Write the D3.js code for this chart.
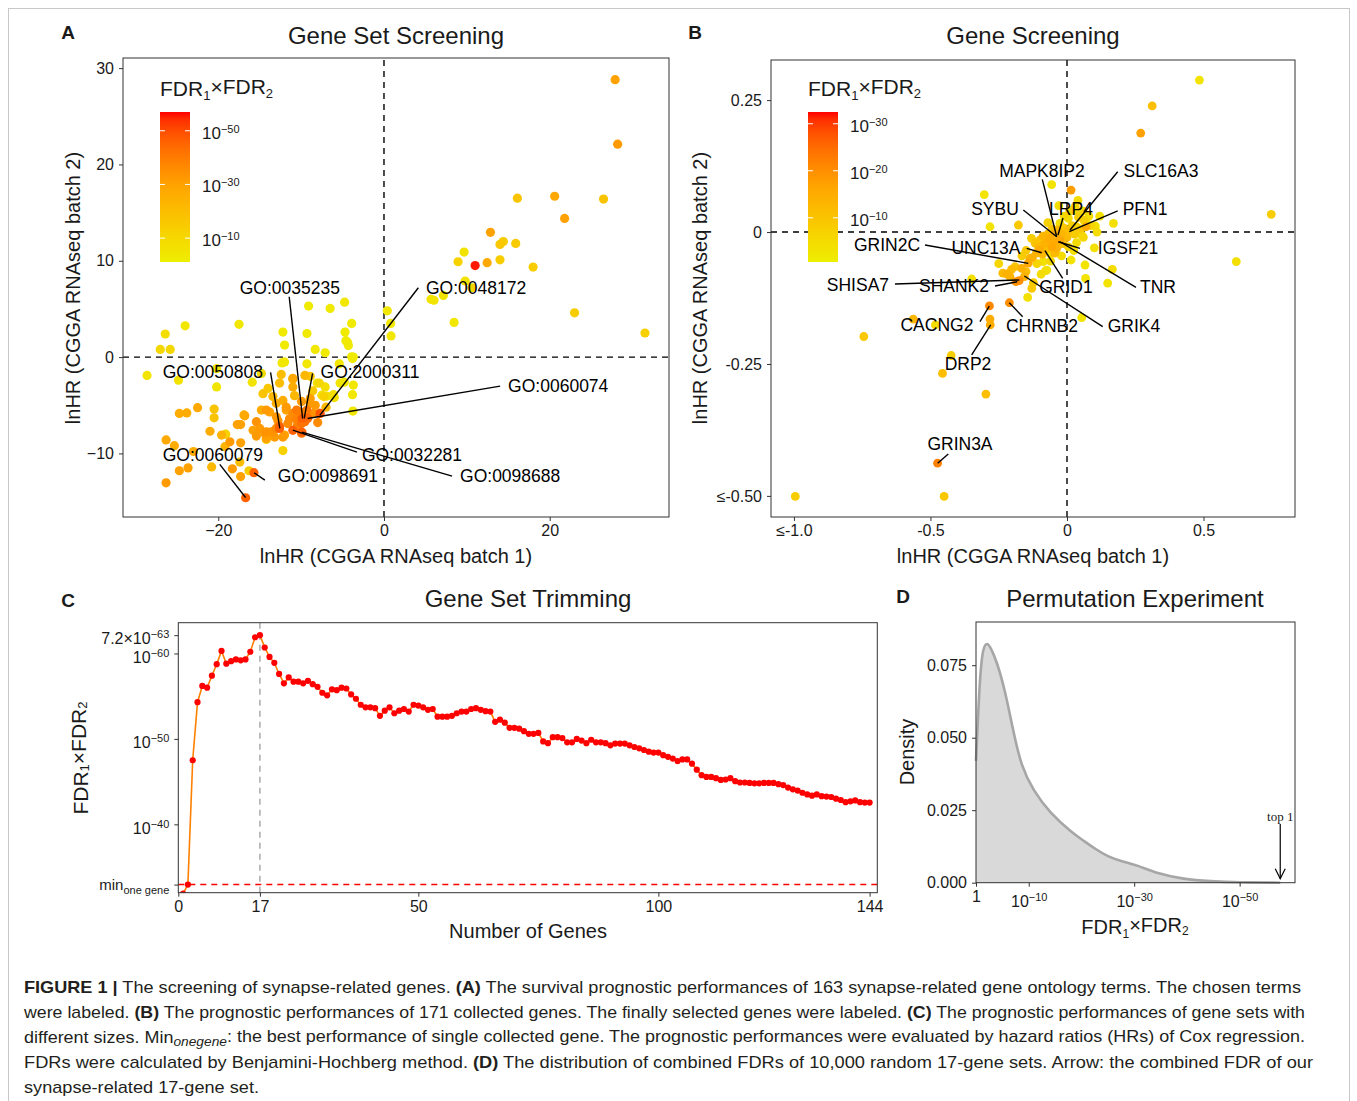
<!DOCTYPE html>
<html><head><meta charset="utf-8">
<script src="https://cdn.jsdelivr.net/npm/d3@7"></script>
<style>body{margin:0;background:#fff}svg{display:block;font-family:"Liberation Sans",Arial,Helvetica,sans-serif}</style>
</head><body><svg id="fig" width="1357" height="1101"></svg>
<script>
// ---------------- DATA ----------------
// Panel A: [lnHR batch1, lnHR batch2, -log10(FDR1*FDR2)]
const aPoints = [
[27.9,28.8,30],[28.2,22.1,32],[16.1,16.5,17],[20.6,16.7,28],[26.5,16.4,18],[21.8,14.4,30],[12.85,12.95,30],[14.0,11.7,16],[14.4,12.0,15],[15.9,11.8,15],
[9.67,10.9,6],[8.94,9.9,12],[11.0,9.5,56],[12.45,9.8,28],[14.0,10.1,14],[18.0,9.35,14],[9.8,7.9,6],[10.6,7.2,10],[7.17,6.4,5],[5.68,6.0,5],
[6.04,5.9,5],[8.46,3.6,4],[23.0,4.6,14],[31.5,2.5,13],[0.4,4.8,4],[0.8,3.5,4],[0.85,2.2,4],
[-4.75,5.7,4],[-6.5,5.05,3],[-3.9,3.5,3],[-4.7,2.6,3],[-4.3,1.2,3],[-3.7,0.0,3],[-24.0,3.25,4],[-26.4,2.4,8],[-27.0,0.8,10],[-25.8,0.8,10],
[-17.5,3.4,4],[-28.6,-1.9,5],[-24.8,-2.4,6],[-20.2,-1.2,4],[-20.2,-3.1,5],[-9.1,5.3,3],[-12.2,2.6,3],[-9.3,2.45,3],[-12.0,1.25,3],[-8.3,0.8,4],
[-7.1,0.45,3],[-4.4,1.55,3],[-3.8,-0.15,3],[-5.4,-0.7,4],[-12.3,-0.6,4],[-12.0,-0.5,4],
[-11.0,-2.3,20],[-9.55,-1.9,22],[-8.9,-2.0,16],[-7.8,-2.7,10],[-7.1,-3.1,8],[-6.1,-3.9,8],[-5.3,-2.7,5],[-3.8,-3.9,4],[-3.75,-5.6,4],[-7.25,-4.1,12],
[-12.4,-1.8,20],[-12.6,-2.7,20],[-14.0,-3.25,16],[-14.8,-1.7,10],[-14.6,-3.8,18],[-13.4,-4.1,22],[-11.0,-3.1,26],[-14.2,-5.5,32],[-13.0,-4.8,26],
[-11.8,-5.5,30],[-11.0,-5.85,36],[-10.15,-5.7,38],[-9.35,-6.0,36],[-8.5,-5.85,34],[-7.8,-5.85,38],[-9.95,-6.4,40],[-9.55,-6.7,42],[-15.4,-6.7,34],
[-15.0,-7.4,32],[-14.2,-7.75,34],[-13.4,-7.75,34],[-14.2,-8.55,14],[-13.0,-7.4,36],[-12.6,-7.2,44],[-12.0,-8.1,30],[-12.2,-8.3,32],[-11.0,-7.6,46],
[-9.95,-7.9,40],[-16.8,-6.1,28],[-17.7,-7.0,30],[-17.3,-7.0,30],[-21.0,-7.7,26],[-22.5,-5.25,28],[-24.7,-5.85,26],[-23.8,-5.8,26],[-20.5,-5.4,18],
[-20.5,-6.3,18],[-19.6,-8.1,24],[-19.1,-8.0,12],[-18.6,-8.8,32],[-17.3,-8.9,30],[-19.2,-9.3,24],[-26.3,-8.6,28],[-25.3,-9.2,26],[-23.0,-9.8,26],
[-20.8,-11.4,22],[-24.7,-11.8,30],[-23.65,-11.5,30],[-17.4,-10.9,20],[-18.3,-11.6,32],[-17.3,-12.4,30],[-16.3,-11.8,14],[-15.7,-12.0,46],
[-26.3,-13.05,32],[-16.7,-14.6,46],[-12.2,-9.7,12],
[-4.6,1.7,3],[-3.9,0.03,3],[-9.3,-0.7,4],[-15.9,-2.6,5],[-11.0,-2.2,28],[-8.05,-2.7,6],[-7.5,-3.95,8],[-6.9,-4.05,6],[-6.0,-4.2,8],[-4.8,-2.6,4],
[-3.7,-2.9,4],[-8.9,-4.3,30],[-8.9,-4.8,32],[-9.95,-4.6,32],[-10.55,-5.5,40],[-9.3,-5.5,40],[-8.3,-5.0,32],[-7.7,-5.85,48],[-11.8,-5.2,32],
[-13.8,-5.7,30],[-14.8,-5.5,26],[-13.0,-6.2,32],[-11.4,-6.4,36],[-10.55,-6.5,38],[-9.95,-6.9,42],[-16.9,-6.0,26],[-13.6,-7.75,34],[-15.8,-7.6,30],
[-15.4,-8.2,32],[-14.4,-7.9,32],[-14.2,-8.45,30],[-13.2,-8.3,32],[-9.85,-6.35,46],[-9.2,-6.35,44],[-12.6,-7.4,46],[-9.9,-7.8,46],[-10.8,-4.0,22],
[-12.2,-4.5,26],[-8.0,-6.8,36],[-10.5,-7.2,38],[-11.6,-6.9,36],[-12.8,-6.6,34],[-8.6,-3.5,16],[-7.0,-5.2,22]
];
// Panel A labels: [name, pointX, pointY, segX, segY, textX, textY]
const aLabels = [
["GO:0035235",-9.82,-6.37,-11.44,6.26,-11.36,7.17],
["GO:0048172",-7.73,-6.02,4.15,7.2,11.12,7.17],
["GO:0050808",-12.57,-7.40,-13.69,-1.59,-20.66,-1.56],
["GO:2000311",-9.63,-6.37,-8.62,-1.69,-1.69,-1.56],
["GO:0060074",-9.22,-6.37,14.02,-3.01,21.03,-3.01],
["GO:0060079",-16.71,-14.57,-19.82,-11.14,-20.66,-10.18],
["GO:0032281",-11.0,-7.58,-3.26,-9.87,3.38,-10.18],
["GO:0098691",-15.67,-12.01,-14.38,-12.77,-6.77,-12.36],
["GO:0098688",-9.91,-7.79,8.22,-12.36,15.23,-12.36]
];
const aXTicks = [-20,0,20];
const aYTicks = [-10,0,10,20,30];
const aLegendTicks = [10,30,50];

// Panel B: [lnHR batch1, lnHR batch2, -log10(FDR1*FDR2)]
const bPoints = [
[0.485,0.288,3],[0.312,0.239,11],[0.27,0.1875,17],[0.748,0.0335,8],[0.62,-0.056,4],[0.015,0.0795,18],[-0.056,0.090,3],[-0.303,0.071,3],
[-0.282,0.010,3],[-0.178,0.0133,9],[0.17,0.0165,4],[0.104,0.0114,4],[0.07,0.010,15],[0.054,-0.0057,4],[0.015,-0.053,3],[0.066,-0.0625,3],
[0.166,-0.0707,5],[0.068,-0.088,3],[0.149,-0.097,3],[0.054,-0.162,3],[-0.087,-0.056,4],[-0.078,-0.073,4],[-0.144,-0.124,4],[-0.123,-0.096,8],
[-0.127,-0.0486,14],[-0.142,-0.059,16],[-0.166,-0.0688,14],[-0.19,-0.0657,10],[-0.203,-0.0707,12],[-0.221,-0.0795,14],[-0.209,-0.0846,13],
[-0.175,-0.092,20],[-0.187,-0.094,19],[-0.156,-0.0846,14],[-0.349,-0.089,4],[-0.284,-0.140,21],[-0.211,-0.134,20],[-0.282,-0.165,15],
[-0.281,-0.176,15],[-0.563,-0.165,13],[-0.482,-0.176,5],[-0.744,-0.198,9],[-0.424,-0.234,8],[-0.456,-0.268,11],[-0.297,-0.307,11],
[-0.474,-0.438,22],[-0.995,-0.501,8],[-0.45,-0.501,9],
[0.023,0.0417,5],[0.048,0.035,6],[0.005,0.026,5],[-0.026,0.0165,4],[0.072,0.0165,4],[0.035,0.010,6],[-0.044,-0.0025,14],[-0.062,-0.012,15],
[-0.099,-0.015,10],[-0.117,-0.021,10],[-0.081,-0.021,14],[-0.05,-0.018,15],[-0.026,-0.015,16],[-0.032,-0.0246,10],[-0.099,-0.034,15],
[-0.074,-0.031,11],[-0.062,-0.040,5],[-0.038,-0.031,14],[-0.074,-0.072,4],[-0.136,-0.050,13],[-0.129,-0.1067,9],
[0.010,0.040,7],[0.030,0.048,6],[0.042,0.028,8],[0.058,0.040,5],[0.062,0.022,7],[0.080,0.030,5],[0.018,0.012,8],[0.050,0.006,9],[0.088,0.012,6],
[-0.010,0.030,6],[-0.012,0.008,9],[0.002,0.002,11],[0.028,-0.004,8],[-0.020,-0.004,13],[-0.035,0.004,12],[-0.055,0.006,10],[-0.070,-0.004,12],
[-0.088,-0.008,13],[-0.105,-0.028,12],[-0.090,-0.042,12],[-0.112,-0.040,13],[-0.055,-0.028,16],[-0.045,-0.040,12],[-0.015,-0.022,10],
[0.005,-0.028,6],[0.035,-0.020,5],[0.025,-0.035,4],[0.100,-0.030,4],[0.120,0.030,4],[-0.150,-0.035,9],[-0.165,-0.045,8],[-0.110,-0.060,6],
[-0.095,-0.080,5],[-0.150,-0.075,12],[-0.235,-0.078,12],[-0.250,-0.060,6],[-0.030,0.050,4],[0.040,0.060,5],[0.110,0.000,5],[-0.060,-0.055,6],
[-0.020,-0.045,5],[-0.130,-0.012,8],[0.000,-0.010,12],[-0.070,0.018,7],[0.060,-0.010,6]
];
const bLabels = [
["MAPK8IP2",-0.0377,-0.0089,-0.0905,0.0998,-0.0916,0.1155],
["SLC16A3",0.011,0.0038,0.1857,0.1142,0.344,0.1155],
["SYBU",-0.0377,-0.0089,-0.160,0.0417,-0.2637,0.0436],
["LRP4",-0.033,-0.0057,-0.0147,0.0265,0.0147,0.0436],
["PFN1",0.0084,0.0006,0.1857,0.0403,0.2857,0.0436],
["GRIN2C",-0.1418,-0.0593,-0.520,-0.0246,-0.659,-0.0246],
["UNC13A",-0.0927,-0.0392,-0.1476,-0.0309,-0.2967,-0.0303],
["IGSF21",-0.0319,-0.0184,0.0476,-0.0309,0.2234,-0.0303],
["SHISA7",-0.1747,-0.0909,-0.630,-0.0985,-0.7656,-0.1004],
["SHANK2",-0.182,-0.0941,-0.2637,-0.1023,-0.4139,-0.1023],
["GRID1",-0.0806,-0.0354,-0.0158,-0.0877,-0.0037,-0.1042],
["TNR",-0.0256,-0.0184,0.2527,-0.1047,0.3333,-0.1042],
["GRIK4",-0.1564,-0.0833,0.1308,-0.1794,0.2454,-0.178],
["CACNG2",-0.2846,-0.1402,-0.3187,-0.1699,-0.4762,-0.1761],
["CHRNB2",-0.2114,-0.1339,-0.1623,-0.1604,-0.0916,-0.178],
["DRP2",-0.2795,-0.1761,-0.3491,-0.2330,-0.3626,-0.25],
["GRIN3A",-0.4736,-0.4381,-0.4348,-0.4205,-0.3919,-0.4015]
];
const bXTicks = [-1,-0.5,0,0.5];
const bXTickLabels = ["\u2264-1.0","-0.5","0","0.5"];
const bYTicks = [-0.5,-0.25,0,0.25];
const bYTickLabels = ["\u2264-0.50","-0.25","0","0.25"];
const bLegendTicks = [10,20,30];

// Panel C: -log10(FDR1*FDR2) for gene sets of size 1..144
const cExp = [
31.9,32.95,47.5,54.3,56.2,56.0,57.4,58.75,60.3,58.8,59.1,59.3,59.2,59.3,60.2,61.9,62.14,60.7,59.6,58.9,
57.6,56.5,57.2,56.7,56.7,56.5,56.8,56.4,56.1,55.4,55.1,55.8,55.7,56.0,55.9,55.2,54.7,54.0,53.7,53.7,
53.6,52.7,53.3,53.7,53.0,53.3,53.5,53.2,54.0,53.9,53.7,53.4,53.5,52.6,52.6,52.6,52.7,53.0,53.2,53.2,
53.5,53.6,53.4,53.25,53.2,52.0,52.25,51.9,51.3,51.3,51.2,50.9,50.6,50.6,50.7,49.7,49.5,50.2,50.2,50.1,
49.6,49.6,50.0,49.8,49.5,49.9,49.6,49.6,49.5,49.25,49.45,49.45,49.45,49.25,49.05,48.9,48.7,48.5,48.4,48.4,
48.1,47.9,47.7,47.4,47.6,47.6,47.1,46.4,45.75,45.55,45.55,45.4,45.2,45.25,45.4,45.05,44.9,44.9,44.85,44.8,
44.8,44.85,44.85,44.85,44.7,44.6,44.3,44.1,43.95,43.7,43.5,43.35,43.5,43.3,43.25,43.2,43.0,42.85,42.6,42.7,
42.8,42.6,42.55,42.55
];
const cMinOneGene = 32.95;
const cChosen = 17;
const cXTicks = [0,17,50,100,144];
const cYTicks = [40,50,60];

// Panel D: density of -log10(FDR1*FDR2) among random 17-gene sets
const dDensity = [
[0,0.042],[0.4,0.058],[0.8,0.072],[1.3,0.081],[2.1,0.083],[2.8,0.081],[3.9,0.0765],[5.5,0.0665],[7.0,0.0527],[8.6,0.040],
[10.8,0.032],[14,0.024],[18.4,0.017],[20,0.015],[22.9,0.0113],[25,0.009],[27.9,0.0072],[30.5,0.0061],[34.3,0.0032],
[39.4,0.0012],[44.4,0.0005],[50,0.0001],[57.7,0]
];
const dTop1 = 57.7;
const dXTicks = [0,10,30,50];
const dYTicks = [0,0.025,0.05,0.075];

// ---------------- DRAW ----------------
const svg = d3.select('#fig');
const INK = '#1a1a1a';
svg.append('rect').attr('width',1357).attr('height',1101).attr('fill','#fff');
svg.append('rect').attr('x',8.5).attr('y',8.5).attr('width',1341).attr('height',1110)
  .attr('fill','none').attr('stroke','#c8c8c8').attr('stroke-width',1);

const stops = ['#EEEE00','#FFA500','#FF0000'];
function colorScale(lo,hi){
  return d3.scaleLinear().domain([lo,(lo+hi)/2,hi]).range(stops).interpolate(d3.interpolateLab).clamp(true);
}
function sup(t, base, s, size){
  t.text(null);
  t.append('tspan').text(base);
  t.append('tspan').attr('dy','-0.55em').attr('font-size',size||11).text(s);
}
function fdrTitle(g, x, y, size, anchor, rotate){
  const t = g.append('text').attr('x',x).attr('y',y).attr('font-size',size).attr('fill',INK)
    .attr('text-anchor',anchor||'start');
  if(rotate) t.attr('transform',`rotate(-90,${x},${y})`);
  const s = Math.round(size*0.6);
  t.append('tspan').text('FDR');
  t.append('tspan').attr('dy','0.3em').attr('font-size',s).text('1');
  t.append('tspan').attr('dy','-0.3em').text('\u00d7FDR');
  t.append('tspan').attr('dy','0.3em').attr('font-size',s).text('2');
  return t;
}
function styleAxis(g, fs){
  g.select('.domain').remove();
  g.selectAll('.tick line').attr('stroke','#333');
  g.selectAll('.tick text').attr('fill',INK).attr('font-size',fs||16).attr('font-family','"Liberation Sans",Arial,sans-serif');
}
function frame(x, y){
  svg.append('rect').attr('x',x.range()[0]).attr('y',y.range()[1])
    .attr('width',x.range()[1]-x.range()[0]).attr('height',y.range()[0]-y.range()[1])
    .attr('fill','none').attr('stroke','#333').attr('stroke-width',1);
}
function title(txt,x,y){
  svg.append('text').attr('x',x).attr('y',y).attr('text-anchor','middle').attr('dominant-baseline','central')
    .attr('font-size',24).attr('fill',INK).text(txt);
}
function letter(txt,x,y){
  svg.append('text').attr('x',x).attr('y',y).attr('text-anchor','middle').attr('dominant-baseline','central')
    .attr('font-size',19).attr('font-weight','bold').attr('fill',INK).text(txt);
}
function axTitle(txt,x,y,rot){
  const t = svg.append('text').attr('x',x).attr('y',y).attr('text-anchor','middle').attr('dominant-baseline','central')
    .attr('font-size',20).attr('fill',INK).text(txt);
  if(rot) t.attr('transform',`rotate(-90,${x},${y})`);
}
function legend(x0, y0, y1, lo, hi, ticks, col, id){
  const grad = svg.append('defs').append('linearGradient').attr('id',id)
    .attr('x1',0).attr('y1',1).attr('x2',0).attr('y2',0);
  d3.range(0,1.0001,0.05).forEach(f=>{
    grad.append('stop').attr('offset',f).attr('stop-color',col(lo+f*(hi-lo)));
  });
  fdrTitle(svg, x0, y0-16, 21);
  svg.append('rect').attr('x',x0).attr('y',y0).attr('width',30).attr('height',y1-y0).attr('fill',`url(#${id})`);
  const ly = d3.scaleLinear().domain([lo,hi]).range([y1,y0]);
  ticks.forEach(v=>{
    svg.append('line').attr('x1',x0).attr('x2',x0+5).attr('y1',ly(v)).attr('y2',ly(v)).attr('stroke','#fff').attr('stroke-width',1);
    svg.append('line').attr('x1',x0+25).attr('x2',x0+30).attr('y1',ly(v)).attr('y2',ly(v)).attr('stroke','#fff').attr('stroke-width',1);
    const t = svg.append('text').attr('x',x0+42).attr('y',ly(v)+8).attr('font-size',17).attr('fill',INK);
    sup(t,'10','\u2212'+v,11);
  });
}
function scatter(pts, labels, x, y, col, r){
  const g = svg.append('g');
  const sorted = pts.slice().sort((a,b)=>a[2]-b[2]);
  g.selectAll('circle').data(sorted).join('circle')
    .attr('cx',d=>x(d[0])).attr('cy',d=>y(d[1])).attr('r',r).attr('fill',d=>col(d[2]));
  const lg = svg.append('g');
  lg.selectAll('line').data(labels).join('line')
    .attr('x1',d=>x(d[1])).attr('y1',d=>y(d[2])).attr('x2',d=>x(d[3])).attr('y2',d=>y(d[4]))
    .attr('stroke','#000').attr('stroke-width',1.4);
  lg.selectAll('text').data(labels).join('text')
    .attr('x',d=>x(d[5])).attr('y',d=>y(d[6])).attr('text-anchor','middle').attr('dominant-baseline','central')
    .attr('font-size',17.5).attr('fill','#000').text(d=>d[0]);
}
function zeroLines(x,y){
  const g = svg.append('g').attr('stroke','#000').attr('stroke-width',1.4).attr('stroke-dasharray','6,5');
  g.append('line').attr('x1',x(0)).attr('x2',x(0)).attr('y1',y.range()[0]).attr('y2',y.range()[1]);
  g.append('line').attr('x1',x.range()[0]).attr('x2',x.range()[1]).attr('y1',y(0)).attr('y2',y(0));
}

// ---- Panel A ----
const xA = d3.scaleLinear().domain([-31.5,34.4]).range([123,669]);
const yA = d3.scaleLinear().domain([-16.6,31.05]).range([517,58]);
const colA = colorScale(1.1,57);
letter('A',68,32); title('Gene Set Screening',396,35);
zeroLines(xA,yA);
scatter(aPoints,aLabels,xA,yA,colA,4.6);
frame(xA,yA);
styleAxis(svg.append('g').attr('transform','translate(0,517)').call(d3.axisBottom(xA).tickValues(aXTicks).tickSize(4).tickPadding(4)));
styleAxis(svg.append('g').attr('transform','translate(123,0)').call(d3.axisLeft(yA).tickValues(aYTicks).tickSize(4).tickPadding(5)));
legend(160,112,262,1.1,57,aLegendTicks,colA,'gA');
axTitle('lnHR (CGGA RNAseq batch 1)',396,556);
axTitle('lnHR (CGGA RNAseq batch 2)',73,288,true);

// ---- Panel B ----
const xB = d3.scaleLinear().domain([-1.084,0.835]).range([771,1295]);
const yB = d3.scaleLinear().domain([-0.540,0.326]).range([517,60]);
const colB = colorScale(0.6,32.5);
letter('B',695,32); title('Gene Screening',1033,35);
zeroLines(xB,yB);
scatter(bPoints,bLabels,xB,yB,colB,4.4);
frame(xB,yB);
styleAxis(svg.append('g').attr('transform','translate(0,517)').call(d3.axisBottom(xB).tickValues(bXTicks).tickSize(4).tickPadding(4).tickFormat((d,i)=>bXTickLabels[i])));
styleAxis(svg.append('g').attr('transform','translate(771,0)').call(d3.axisLeft(yB).tickValues(bYTicks).tickSize(4).tickPadding(5).tickFormat((d,i)=>bYTickLabels[i])));
legend(808,112,262,0.6,32.5,bLegendTicks,colB,'gB');
axTitle('lnHR (CGGA RNAseq batch 1)',1033,556);
axTitle('lnHR (CGGA RNAseq batch 2)',700,288,true);

// ---- Panel C ----
const xC = d3.scaleLinear().domain([0,145.6]).range([178.3,877.3]);
const yC = d3.scaleLinear().domain([32.0,63.6]).range([892.7,622.7]);
letter('C',68,600); title('Gene Set Trimming',528,598);
svg.append('defs').append('clipPath').attr('id','clipC').append('rect')
  .attr('x',178.3).attr('y',622.7).attr('width',699).attr('height',270);
const gC = svg.append('g').attr('clip-path','url(#clipC)');
gC.append('line').attr('x1',xC(cChosen)).attr('x2',xC(cChosen)).attr('y1',622.7).attr('y2',892.7)
  .attr('stroke','#aaa').attr('stroke-width',1.5).attr('stroke-dasharray','6,5');
gC.append('line').attr('x1',178.3).attr('x2',877.3).attr('y1',yC(cMinOneGene)).attr('y2',yC(cMinOneGene))
  .attr('stroke','#ff0000').attr('stroke-width',1.5).attr('stroke-dasharray','6,5');
const cData = cExp.map((v,i)=>[i+1,v]);
gC.append('path').datum(cData).attr('d',d3.line().x(d=>xC(d[0])).y(d=>yC(d[1])))
  .attr('fill','none').attr('stroke','#FF7F00').attr('stroke-width',1.6);
gC.selectAll('circle').data(cData).join('circle').attr('cx',d=>xC(d[0])).attr('cy',d=>yC(d[1])).attr('r',3.1).attr('fill','#ff0000');
frame(xC,yC);
styleAxis(svg.append('g').attr('transform','translate(0,892.7)').call(d3.axisBottom(xC).tickValues(cXTicks).tickSize(4).tickPadding(4)));
const yAxC = svg.append('g').attr('transform','translate(178.3,0)')
  .call(d3.axisLeft(yC).tickValues([cMinOneGene,40,50,60,62.14]).tickSize(4).tickPadding(5));
styleAxis(yAxC);
yAxC.selectAll('.tick text').each(function(d){
  const t = d3.select(this);
  if(d===cMinOneGene){
    t.text(null).attr('font-size',15);
    t.append('tspan').text('min');
    t.append('tspan').attr('dy','0.35em').attr('font-size',11).text('one gene');
  } else if(d===62.14){ sup(t,'7.2\u00d710','\u221263',11); t.attr('dy','0.55em'); }
  else sup(t,'10','\u2212'+d,11), t.attr('dy','0.55em');
});
axTitle('Number of Genes',528,931);
fdrTitle(svg,80,758,21,'middle',true).attr('dominant-baseline','central');

// ---- Panel D ----
const xD = d3.scaleLinear().domain([0,60.5]).range([976,1295]);
const yD = d3.scaleLinear().domain([0,0.0899]).range([882.7,622]);
letter('D',903,596); title('Permutation Experiment',1135,598);
const area = d3.area().x(d=>xD(d[0])).y0(yD(0)).y1(d=>yD(d[1])).curve(d3.curveBasis);
svg.append('path').datum(dDensity).attr('d',area).attr('fill','#d9d9d9');
svg.append('path').datum(dDensity).attr('d',d3.line().x(d=>xD(d[0])).y(d=>yD(d[1])).curve(d3.curveBasis))
  .attr('fill','none').attr('stroke','#a6a6a6').attr('stroke-width',2.6);
frame(xD,yD);
const xAxD = svg.append('g').attr('transform','translate(0,882.7)').call(d3.axisBottom(xD).tickValues(dXTicks).tickSize(4).tickPadding(4));
styleAxis(xAxD);
xAxD.selectAll('.tick text').each(function(d){
  const t = d3.select(this);
  if(d===0) t.text('1'); else { sup(t,'10','\u2212'+d,11); t.attr('dy','1.05em'); }
});
styleAxis(svg.append('g').attr('transform','translate(976,0)').call(d3.axisLeft(yD).tickValues(dYTicks).tickSize(4).tickPadding(5).tickFormat(d3.format('.3f'))));
const ax = xD(dTop1);
svg.append('text').attr('x',ax).attr('y',816).attr('text-anchor','middle').attr('dominant-baseline','central')
  .attr('font-family','"Liberation Serif","Times New Roman",serif').attr('font-size',13).attr('fill',INK).text('top 1');
svg.append('line').attr('x1',ax).attr('x2',ax).attr('y1',824).attr('y2',yD(0)-4).attr('stroke','#000').attr('stroke-width',1.2);
svg.append('path').attr('d',`M${ax-5},${yD(0)-14}L${ax},${yD(0)-4}L${ax+5},${yD(0)-14}`).attr('fill','none').attr('stroke','#000').attr('stroke-width',1.2);
fdrTitle(svg,1135,934,20,'middle');
axTitle('Density',907,752,true);

// ---- Caption ----
const capLines = [
 {y:987,w:1277,seg:[['FIGURE 1 |','b'],[' The screening of synapse-related genes. '],['(A)','b'],[' The survival prognostic performances of 163 synapse-related gene ontology terms. The chosen terms']]},
 {y:1012,w:1281,seg:[['were labeled. '],['(B)','b'],[' The prognostic performances of 171 collected genes. The finally selected genes were labeled. '],['(C)','b'],[' The prognostic performances of gene sets with']]},
 {y:1037,w:1281,seg:[['different sizes. Min'],['onegene','s'],[': the best performance of single collected gene. The prognostic performances were evaluated by hazard ratios (HRs) of Cox regression.','r']]},
 {y:1062,w:1289,seg:[['FDRs were calculated by Benjamini-Hochberg method. '],['(D)','b'],[' The distribution of combined FDRs of 10,000 random 17-gene sets. Arrow: the combined FDR of our']]},
 {y:1087,w:235,seg:[['synapse-related 17-gene set.']]}
];
capLines.forEach(L=>{
  const t = svg.append('text').attr('x',24).attr('y',L.y).attr('dominant-baseline','central')
    .attr('font-size',17).attr('fill','#231f20').attr('textLength',L.w).attr('lengthAdjust','spacingAndGlyphs')
    .attr('font-family','"Liberation Sans Narrow","Liberation Sans",Arial,sans-serif');
  L.seg.forEach(s=>{
    const ts = t.append('tspan').text(s[0]);
    if(s[1]==='b') ts.attr('font-weight','bold');
    if(s[1]==='s') ts.attr('dy','0.3em').attr('font-size',13).attr('font-style','italic');
    if(s[1]==='r') ts.attr('dy','-0.3em');
  });
});
</script></body></html>
